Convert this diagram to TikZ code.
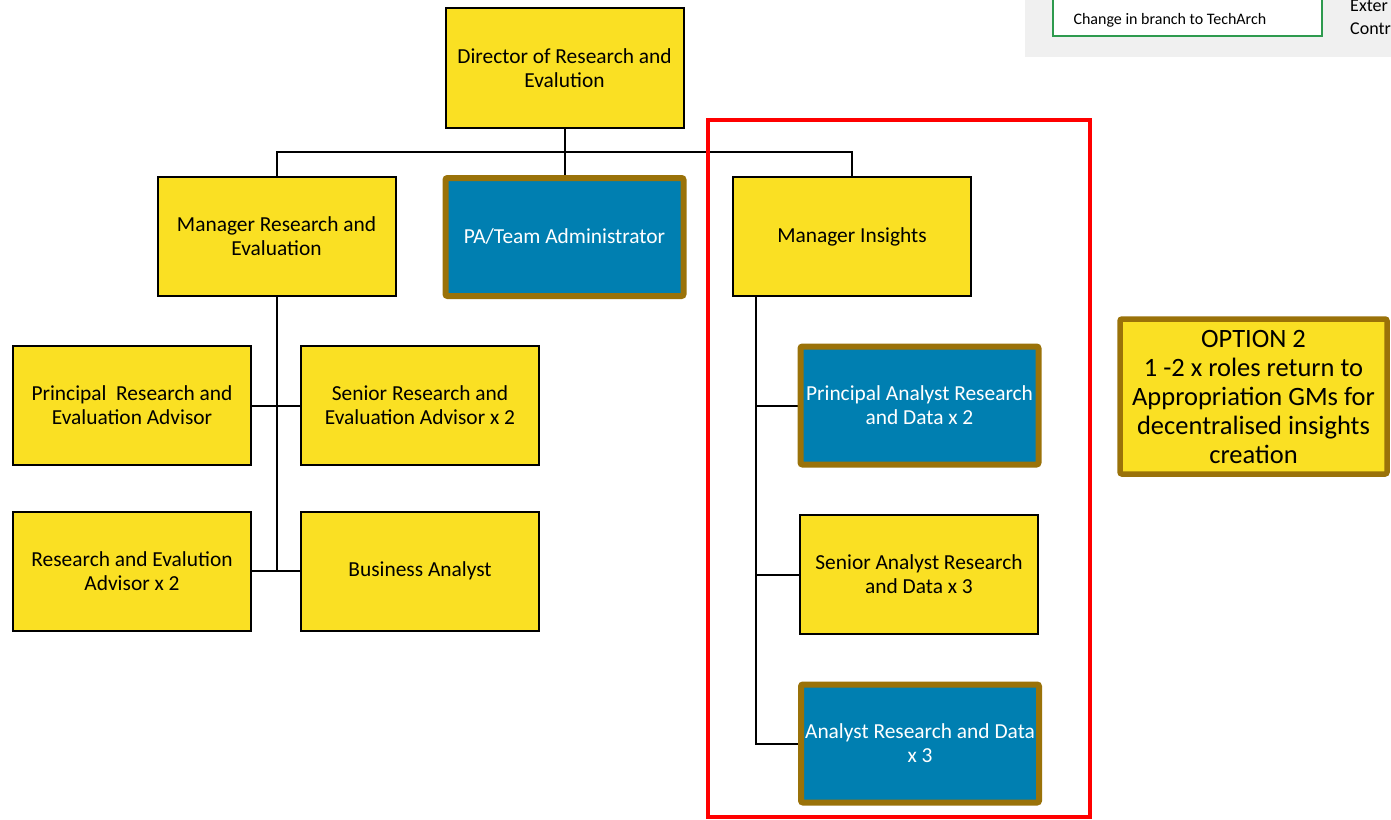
\documentclass[tikz,border=0pt]{standalone}
\usepackage{fontspec}
\setmainfont{Carlito}
\usetikzlibrary{backgrounds}
\definecolor{roleyellow}{HTML}{FAE023}
\definecolor{roleblue}{HTML}{007FB1}
\definecolor{rolebrown}{HTML}{9A7209}
\definecolor{panelgray}{HTML}{F0F0F0}
\definecolor{keygreen}{HTML}{2E9A4E}
\tikzset{
  role/.style={draw=black, line width=2pt, fill=roleyellow, align=center,
    inner sep=0pt, minimum width=238pt, minimum height=119pt,
    font=\fontsize{21.4}{24}\selectfont},
  changed/.style={role, draw=rolebrown, line width=6pt, fill=roleblue,
    text=white, rounded corners=2pt, minimum width=238pt, minimum height=118pt},
  link/.style={draw=black, line width=2pt},
}
\begin{document}
\begin{tikzpicture}[x=1pt,y=-1pt]
\clip (0,0) rectangle (1391,819);

% legend strip
\fill[panelgray] (1025,-2) rectangle (1393,57);
\node[draw=keygreen, line width=2pt, fill=white, anchor=north west,
      minimum width=269pt, minimum height=40pt, inner sep=0pt] (legend) at (1052,-5) {};
\node[anchor=west, font=\fontsize{16}{18}\selectfont] (legendtxt) at (1070,20) {Change in branch to TechArch};
\node[anchor=west, font=\fontsize{18}{22}\selectfont, inner sep=0pt] (ext) at (1350,6) {Exter};
\node[anchor=west, font=\fontsize{18}{22}\selectfont, inner sep=0pt] (con) at (1350,29) {Contr};

% top of the tree
\node[role, minimum height=120pt] (dir) at (564.5,68) {Director of Research and\\Evalution};
\node[role] (mre) at (276.5,236.5) {Manager Research and\\Evaluation};
\node[changed] (pa) at (564.5,237) {PA/Team Administrator};
\node[role] (mi) at (852,236.5) {Manager Insights};

% research and evaluation team
\node[role] (pl) at (132,405.5) {Principal\ \ Research and\\Evaluation Advisor};
\node[role] (sr) at (420,405.5) {Senior Research and\\Evaluation Advisor x 2};
\node[role] (rl) at (132,571) {Research and Evalution\\Advisor x 2};
\node[role] (ba) at (420,571) {Business Analyst};

% insights team
\node[changed] (pad) at (919.5,405.5) {Principal Analyst Research\\and Data x 2};
\node[role] (sad) at (919,574.5) {Senior Analyst Research\\and Data x 3};
\node[changed] (ad) at (920,743.5) {Analyst Research and Data\\x 3};

% option note
\node[role, draw=rolebrown, line width=5.5pt, rounded corners=2pt,
      minimum width=267pt, minimum height=155pt,
      font=\fontsize{26.5}{29}\selectfont] (opt) at (1253.5,396.5)
  {OPTION 2\\1 -2 x roles return to\\Appropriation GMs for\\decentralised insights\\creation};

% insights scope
\draw[red, line width=4pt] (708,120) rectangle (1090,817);

\begin{scope}[on background layer]
  \coordinate (bus) at (564.5,152);
  \coordinate (mitap) at ([xshift=24pt]mi.south west);
  \draw[link] (dir.south) -- (pa.north);
  \draw[link] (mre.north) |- (bus) -| (mi.north);
  \draw[link] (mre.south) -- (mre.south |- rl.east);
  \draw[link] (pl.east) -- (sr.west);
  \draw[link] (rl.east) -- (ba.west);
  \draw[link] (mitap) |- (ad.west);
  \draw[link] (mitap |- pad.west) -- (pad.west);
  \draw[link] (mitap |- sad.west) -- (sad.west);
\end{scope}
\end{tikzpicture}
\end{document}
